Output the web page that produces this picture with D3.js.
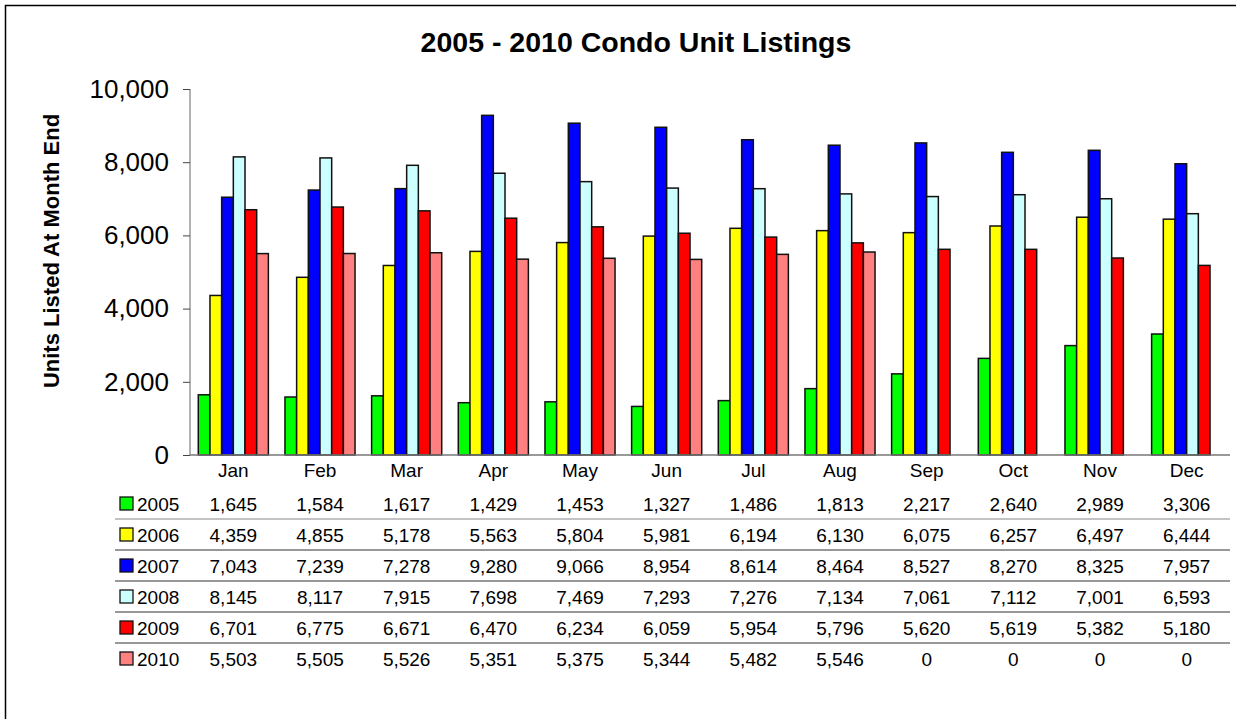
<!DOCTYPE html>
<html>
<head>
<meta charset="utf-8">
<script src="https://cdn.jsdelivr.net/npm/d3@7"></script>
<style>
  body { margin: 0; background: #fff; }
  text { font-family: "Liberation Sans", Arial, sans-serif; }
</style>
</head>
<body>
<script>
const months = ['Jan', 'Feb', 'Mar', 'Apr', 'May', 'Jun', 'Jul', 'Aug', 'Sep', 'Oct', 'Nov', 'Dec']
const years = ['2005', '2006', '2007', '2008', '2009', '2010']
const colors = ['#00ff00', '#ffff00', '#0000ff', '#ccffff', '#ff0000', '#ff8080']

const v2005 = [1645, 1584, 1617, 1429, 1453, 1327, 1486, 1813, 2217, 2640, 2989, 3306]
const v2006 = [4359, 4855, 5178, 5563, 5804, 5981, 6194, 6130, 6075, 6257, 6497, 6444]
const v2007 = [7043, 7239, 7278, 9280, 9066, 8954, 8614, 8464, 8527, 8270, 8325, 7957]
const v2008 = [8145, 8117, 7915, 7698, 7469, 7293, 7276, 7134, 7061, 7112, 7001, 6593]
const v2009 = [6701, 6775, 6671, 6470, 6234, 6059, 5954, 5796, 5620, 5619, 5382, 5180]
const v2010 = [5503, 5505, 5526, 5351, 5375, 5344, 5482, 5546, 0, 0, 0, 0]
const yTicks = [0, 2000, 4000, 6000, 8000, 10000]

const series = [v2005, v2006, v2007, v2008, v2009, v2010]

const W = 1236, H = 719
const svg = d3.select('body').append('svg')
    .attr('width', W)
    .attr('height', H)

// outer frame (right and bottom edges fall outside the picture)
svg.append('rect')
    .attr('x', 5.5).attr('y', 5.5)
    .attr('width', W + 10).attr('height', H + 10)
    .attr('fill', 'none')
    .attr('stroke', '#000')
    .attr('stroke-width', 1.5)

svg.append('text')
    .attr('x', 636).attr('y', 52)
    .attr('text-anchor', 'middle')
    .attr('font-weight', 'bold')
    .attr('font-size', 28.5)
    .text('2005 - 2010 Condo Unit Listings')

const x0 = d3.scaleBand().domain(months).range([190, 1230])
const x1 = d3.scaleBand().domain(years).range([0, x0.bandwidth()]).paddingOuter(0.71)
const y = d3.scaleLinear().domain([0, 10000]).range([455, 89])

// y axis
const yAxis = svg.append('g')
    .attr('transform', 'translate(190,0)')
    .call(d3.axisLeft(y).tickValues(yTicks).tickSize(7).tickPadding(14).tickFormat(d3.format(',')))
yAxis.selectAll('text').attr('font-size', 26).attr('fill', '#000')
    .style('font-family', '"Liberation Sans", Arial, sans-serif')
yAxis.selectAll('line').attr('stroke', '#444')
yAxis.select('.domain').attr('stroke', '#666').attr('d', 'M0,' + y(10000) + 'V' + y(0))

svg.append('text')
    .attr('transform', 'translate(59,251) rotate(-90)')
    .attr('text-anchor', 'middle')
    .attr('font-weight', 'bold')
    .attr('font-size', 22)
    .text('Units Listed At Month End')

// bars
const groups = svg.append('g').selectAll('g')
    .data(months)
    .join('g')
    .attr('transform', d => 'translate(' + x0(d) + ',0)')

groups.selectAll('rect')
    .data((m, mi) => years.map((yr, k) => ({ yr, k, v: series[k][mi] })).filter(d => d.v > 0))
    .join('rect')
    .attr('x', d => x1(d.yr))
    .attr('y', d => y(d.v))
    .attr('width', x1.bandwidth())
    .attr('height', d => y(0) - y(d.v))
    .attr('fill', d => colors[d.k])
    .attr('stroke', '#111')
    .attr('stroke-width', 1.5)

// x axis line
svg.append('line')
    .attr('x1', 190).attr('x2', 1230)
    .attr('y1', y(0)).attr('y2', y(0))
    .attr('stroke', '#777')
    .attr('stroke-width', 1.5)

svg.append('g').selectAll('text')
    .data(months)
    .join('text')
    .attr('x', d => x0(d) + x0.bandwidth() / 2)
    .attr('y', 477)
    .attr('text-anchor', 'middle')
    .attr('font-size', 19)
    .text(d => d)

// data table
const rowY = d3.scaleBand().domain(years).range([488, 674])
const fmt = d3.format(',')

const rows = svg.append('g').selectAll('g')
    .data(years)
    .join('g')
    .attr('transform', d => 'translate(0,' + rowY(d) + ')')

rows.filter((d, i) => i > 0).append('line')
    .attr('x1', 115).attr('x2', 1230)
    .attr('y1', 0).attr('y2', 0)
    .attr('stroke', (d, i) => i === 0 ? '#888' : '#333')
    .attr('stroke-width', 1.2)

rows.append('rect')
    .attr('x', 120).attr('y', rowY.bandwidth() / 2 - 6.5)
    .attr('width', 13).attr('height', 13)
    .attr('fill', (d, i) => colors[i])
    .attr('stroke', '#111')
    .attr('stroke-width', 1.3)

rows.append('text')
    .attr('x', 137).attr('y', rowY.bandwidth() / 2 + 7)
    .attr('font-size', 19)
    .text(d => d)

rows.selectAll('text.val')
    .data((yr, k) => series[k].map((v, mi) => ({ v, m: months[mi] })))
    .join('text')
    .attr('class', 'val')
    .attr('x', d => x0(d.m) + x0.bandwidth() / 2)
    .attr('y', rowY.bandwidth() / 2 + 7)
    .attr('text-anchor', 'middle')
    .attr('font-size', 19)
    .text(d => fmt(d.v))
</script>
</body>
</html>
